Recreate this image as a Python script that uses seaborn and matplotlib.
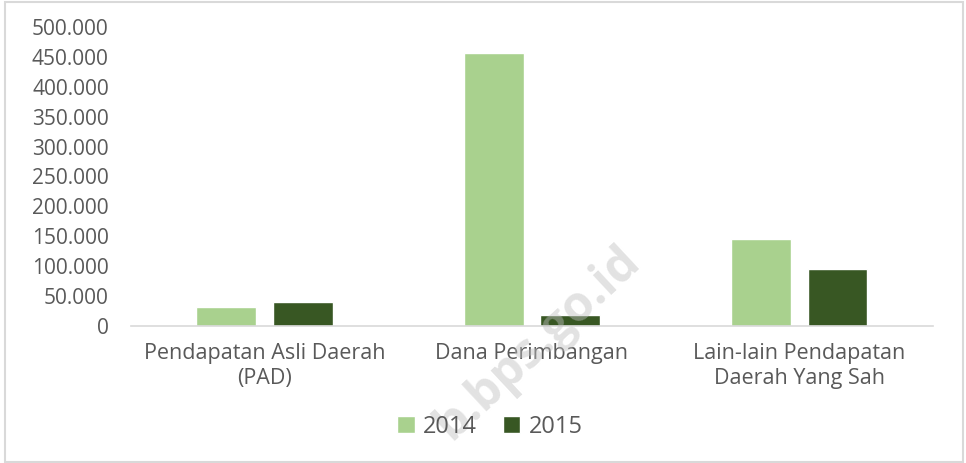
import pandas as pd
import matplotlib
matplotlib.use("Agg")
import matplotlib.pyplot as plt
import matplotlib.ticker as mticker
from matplotlib.patches import Rectangle
import seaborn as sns

# Data pendapatan daerah (juta Rp)
kategori = [
    "Pendapatan Asli Daerah\n(PAD)",
    "Dana Perimbangan",
    "Lain-lain Pendapatan\nDaerah Yang Sah",
]
tahun = ["2014", "2015"]
nilai_2014 = [31800, 456000, 145000]
nilai_2015 = [39600, 18400, 94800]

df = pd.DataFrame({"Kategori": kategori, "2014": nilai_2014, "2015": nilai_2015})
df = df.melt(id_vars="Kategori", var_name="Tahun", value_name="Nilai")

sns.set_style("white")
plt.rcParams["font.family"] = ["Open Sans", "DejaVu Sans"]

fig = plt.figure(figsize=(9.66, 4.63), dpi=100)
ax = fig.add_axes([0.1356, 0.2959, 0.8302, 0.6458])

sns.barplot(data=df, x="Kategori", y="Nilai", hue="Tahun",
            palette=["#A9D18E", "#385723"], width=0.573, gap=0.22,
            saturation=1, ax=ax, legend=True)

ax.set_ylim(0, 500000)
ax.set_yticks(range(0, 500001, 50000))
ax.yaxis.set_major_formatter(mticker.FuncFormatter(lambda v, p: f"{int(v):,}".replace(",", ".")))
ax.set_xlabel("")
ax.set_ylabel("")
ax.tick_params(axis="both", length=0, colors="#595959")
ax.tick_params(axis="x", pad=12, labelsize=15.5)
ax.tick_params(axis="y", pad=16, labelsize=15)
for lbl in ax.get_xticklabels():
    lbl.set_linespacing(1.3)
for s in ["top", "right", "left"]:
    ax.spines[s].set_visible(False)
ax.spines["bottom"].set_color("#D9D9D9")
ax.spines["bottom"].set_linewidth(1.2)

handles, labels = ax.get_legend_handles_labels()
ax.get_legend().remove()
fig.legend(handles, labels, loc="center", bbox_to_anchor=(0.507, 0.078), ncol=2,
           frameon=False, fontsize=17, handlelength=0.75, handleheight=0.75,
           handletextpad=0.35, columnspacing=1.1, labelcolor="#595959")

# watermark
fig.text(0.655, 0.45, "b.bps.go.id", rotation=43, ha="right", va="center",
         fontsize=35, fontweight="bold", color="#C0C0C0", alpha=0.45,
         rotation_mode="anchor")

fig.patches.append(Rectangle((5 / 966, 1 / 463), 958 / 966, 460 / 463,
                             transform=fig.transFigure, fill=False,
                             edgecolor="#D9D9D9", linewidth=1.5))

fig.savefig("out.png", dpi=100)
